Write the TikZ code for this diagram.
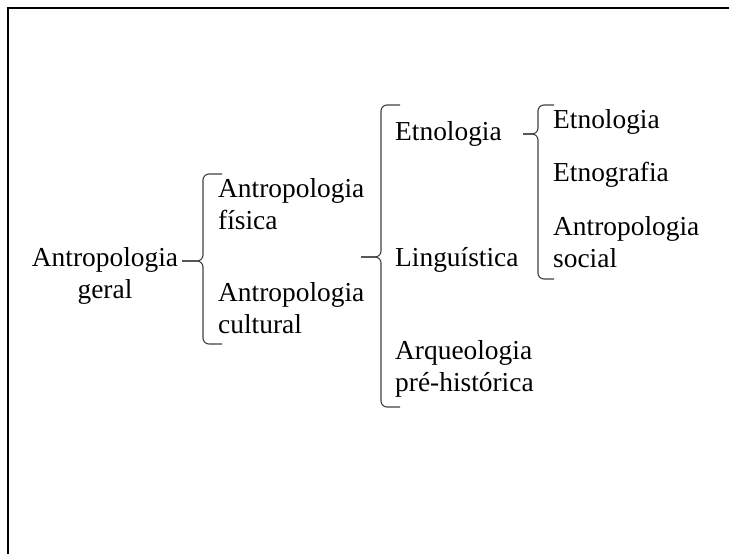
\documentclass[tikz,border=0pt]{standalone}
\usepackage{fontspec}
\setmainfont{Liberation Serif}
\usetikzlibrary{calc}
\tikzset{
	term/.style = {inner sep = 0pt, align = left, anchor = base west, font = \fontsize{27.4}{32}\selectfont},
	brace/.style = {draw = black!75, line width = 1.1pt, rounded corners = 6pt}
}
% brace: spine x, arm width, top y, bottom y, tip coordinate
\newcommand{\wordbrace}[5]{%
	\coordinate (spine) at (#1, 0);
	\draw [brace] ($(#1+#2, #3)$) -- (#1, #3) -- (spine |- #5) -- (#5);
	\draw [brace] ($(#1+#2, #4)$) -- (#1, #4) -- (spine |- #5) -- (#5);
}

\begin{document}
\begin{tikzpicture}[x = 1pt, y = -1pt]

	\useasboundingbox (0, 0) rectangle (729, 554);

	% Frame (runs off the right and the bottom)

	\draw [line width = 1.6pt] (8, 554) -- (8, 8) -- (729, 8);

	% Terms (base = baseline of the last line)

	\node [term, align = center, anchor = base] (geral) at (105, 298) {Antropologia\\geral};

	\node [term] (fisica) at (218, 229) {Antropologia\\física};
	\node [term] (cultural) at (218, 333) {Antropologia\\cultural};

	\node [term] (etnologia) at (395, 140) {Etnologia};
	\node [term] (linguistica) at (395, 266) {Linguística};
	\node [term] (arqueologia) at (395, 391) {Arqueologia\\pré-histórica};

	\node [term] (etnologiaB) at (553, 128) {Etnologia};
	\node [term] (etnografia) at (553, 181) {Etnografia};
	\node [term] (social) at (553, 267) {Antropologia\\social};

	% Braces

	\coordinate (tipgeral) at (182, 261);
	\coordinate (tipfisica) at (361, 257);
	\coordinate (tipetnologia) at (523, 134);

	\wordbrace{203}{19}{174}{344}{tipgeral}
	\wordbrace{381}{19}{105}{407}{tipfisica}
	\wordbrace{538}{16}{105}{279}{tipetnologia}

\end{tikzpicture}
\end{document}
